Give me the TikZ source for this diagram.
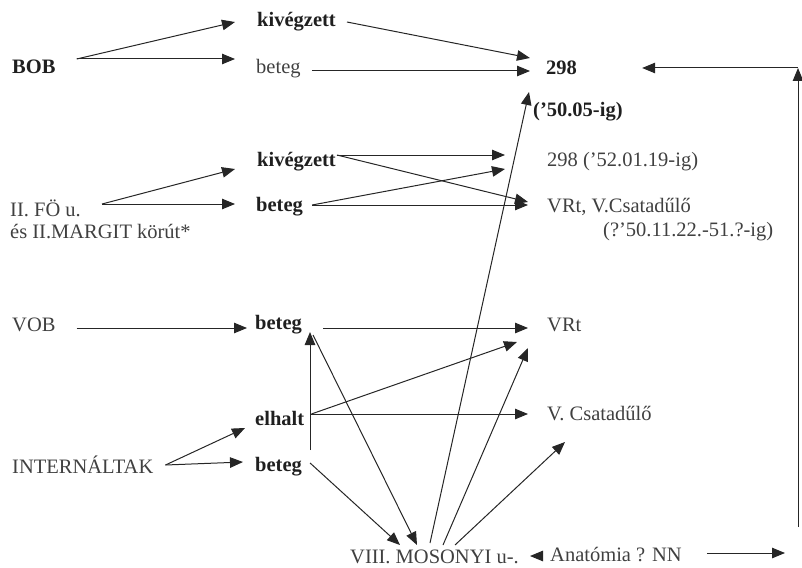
\documentclass[tikz,border=0pt]{standalone}
\usepackage{fontspec}
\setmainfont{Liberation Serif}
\usetikzlibrary{arrows.meta}
\definecolor{txt}{gray}{0.25}
\definecolor{btxt}{gray}{0.12}
\definecolor{ln}{gray}{0.15}
\tikzset{
  lbl/.style={anchor=west,inner sep=0pt,text=txt,font=\fontsize{20.5}{23}\selectfont},
  blbl/.style={anchor=west,inner sep=0pt,text=btxt,font=\fontsize{20.5}{23}\selectfont\bfseries},
  con/.style={draw=ln,line width=1pt},
  arr/.style={con,-{Triangle[length=13pt,width=10.5pt]}}
}
\begin{document}
\begin{tikzpicture}[x=1pt,y=-1pt]
\useasboundingbox (0,0) rectangle (802,567);
% nodes
\node[blbl] (kv1) at (257,22) {kivégzett};
\node[blbl] (bob) at (12,67) {BOB};
\node[lbl] (bt1) at (256,69) {beteg};
\node[blbl] (n298) at (546,68) {298};
\node[blbl] (n5005) at (533,112) {('50.05-ig)};
\node[blbl] (kv2) at (257,162) {kivégzett};
\node[lbl] (fo) at (10,208) {II. FÖ u.};
\node[lbl] (margit) at (10,232) {és II.MARGIT körút*};
\node[blbl] (bt2) at (256,207) {beteg};
\node[lbl] (n29852) at (547,162) {298 ('52.01.19-ig)};
\node[lbl] (vrtcs) at (547,207) {VRt, V.Csatadűlő};
\node[lbl] (date2) at (603,232) {(?'50.11.22.-51.?-ig)};
\node[lbl] (vob) at (12,325) {VOB};
\node[blbl] (bt3) at (255,325) {beteg};
\node[lbl] (vrt) at (547,325) {VRt};
\node[blbl] (elhalt) at (255,418) {elhalt};
\node[lbl] (vcs) at (547,414) {V. Csatadűlő};
\node[lbl] (intern) at (12,465) {INTERNÁLTAK};
\node[blbl] (bt4) at (255,467) {beteg};
\node[lbl] (moson) at (350,557) {VIII. MOSONYI u-.};
\node[lbl] (anat) at (550,555) {Anatómia ? NN};
\coordinate (c1) at (798,68);
\coordinate (c2) at (798,527);
\coordinate (c3) at (785,553);
% BOB
\draw[arr] ([shift={(21,-8)}]bob.east) -- ([shift={(-22,0)}]kv1.west);
\draw[arr] ([shift={(21,-8)}]bob.east) -- ([shift={(-21,-10)}]bt1.west);
\draw[arr] ([shift={(11,0)}]kv1.east) -- ([shift={(-16,-10)}]n298.west);
\draw[arr] ([shift={(11,2)}]bt1.east) -- ([shift={(-16,3)}]n298.west);
% right side loop
\draw[arr] (c2) -- (c1);
\draw[arr] (c1) -- ([shift={(65,0)}]n298.east);
\draw[arr] ([shift={(25,-2)}]anat.east) -- (c3);
\draw[arr] ([shift={(-8,1)}]anat.west) -- ([shift={(-20,1)}]anat.west);
% II. FO
\draw[arr] ([shift={(21,-4)}]fo.east) -- ([shift={(-22,7)}]kv2.west);
\draw[arr] ([shift={(21,-4)}]fo.east) -- ([shift={(-21,-3)}]bt2.west);
\draw[arr] ([shift={(1,-7)}]kv2.east) -- ([shift={(-42,-7)}]n29852.west);
\draw[arr] ([shift={(1,-7)}]kv2.east) -- ([shift={(-19,-5)}]vrtcs.west);
\draw[arr] ([shift={(9,-2)}]bt2.east) -- ([shift={(-42,7)}]n29852.west);
\draw[arr] ([shift={(9,-2)}]bt2.east) -- ([shift={(-19,-2)}]vrtcs.west);
% VOB
\draw[arr] ([shift={(21,3)}]vob.east) -- ([shift={(-8,3)}]bt3.west);
\draw[arr] ([shift={(21,3)}]bt3.east) -- ([shift={(-19,3)}]vrt.west);
\draw[arr] ([shift={(55,-17)}]bt4.west) -- ([shift={(55,7)}]bt3.west);
\draw[arr] ([shift={(58,10)}]bt3.west) -- ([shift={(67,-12)}]moson.west);
% INTERNALTAK
\draw[arr] ([shift={(12,0)}]intern.east) -- ([shift={(-10,10)}]elhalt.west);
\draw[arr] ([shift={(12,0)}]intern.east) -- ([shift={(-12,-5)}]bt4.west);
\draw[arr] ([shift={(7,-4)}]elhalt.east) -- ([shift={(-30,17)}]vrt.west);
\draw[arr] ([shift={(7,-4)}]elhalt.east) -- ([shift={(-19,0)}]vcs.west);
\draw[arr] ([shift={(8,-4)}]bt4.east) -- ([shift={(50,-12)}]moson.west);
% MOSONYI
\draw[arr] ([shift={(80,-14)}]moson.west) -- ([shift={(-17,24)}]n298.west);
\draw[arr] ([shift={(93,-12)}]moson.west) -- ([shift={(-19,23)}]vrt.west);
\draw[arr] ([shift={(105,-12)}]moson.west) -- ([shift={(18,28)}]vcs.west);
\end{tikzpicture}
\end{document}
